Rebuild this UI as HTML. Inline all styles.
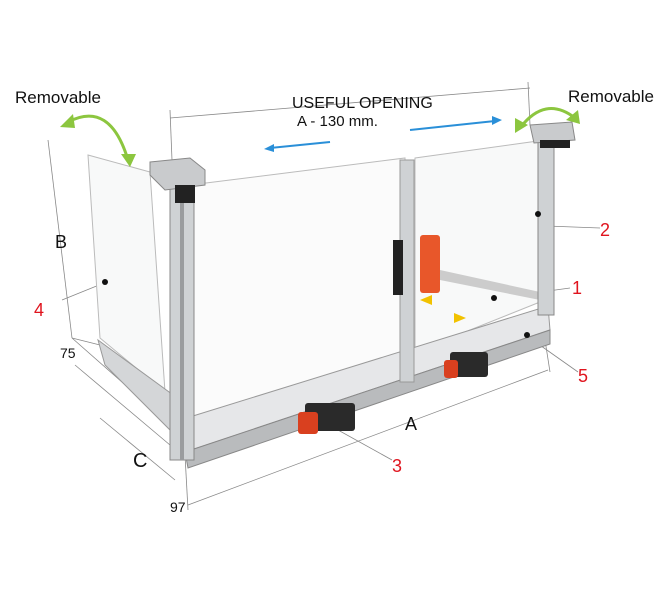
<!DOCTYPE html>
<html><head><style>
html,body{margin:0;padding:0;background:#fff;}
svg{display:block;}
text{font-family:"Liberation Sans",sans-serif;}
</style></head><body>
<svg width="670" height="600" viewBox="0 0 670 600" xmlns="http://www.w3.org/2000/svg">
<rect width="670" height="600" fill="#fff"/>
<g stroke="#888" stroke-width="0.8" fill="none">
<line x1="170" y1="118" x2="530" y2="88"/>
<line x1="170" y1="110" x2="172" y2="160"/>
<line x1="528" y1="82" x2="530" y2="125"/>
<line x1="48" y1="140" x2="72" y2="338"/>
<line x1="72" y1="338" x2="100" y2="345"/>
<line x1="72" y1="338" x2="165" y2="420"/>
<line x1="75" y1="365" x2="170" y2="445"/>
<line x1="100" y1="418" x2="175" y2="480"/>
<line x1="188" y1="505" x2="548" y2="370"/>
<line x1="185" y1="455" x2="188" y2="510"/>
<line x1="545" y1="340" x2="550" y2="372"/>
<line x1="62" y1="300" x2="104" y2="283"/>
<line x1="520" y1="225" x2="600" y2="228"/>
<line x1="497" y1="298" x2="570" y2="288"/>
<line x1="527" y1="336" x2="578" y2="372"/>
<line x1="320" y1="420" x2="392" y2="460"/>
</g>
<polygon points="88,155 150,172 165,392 100,338" fill="#f8f9f9" stroke="#bbb" stroke-width="1"/>
<polygon points="415,158 545,140 545,300 415,352" fill="#f8f9f9" stroke="#bbb"/>
<polygon points="190,185 405,158 405,382 190,420" fill="#fbfbfb" stroke="#bbb"/>
<polygon points="440,270 540,292 540,300 440,280" fill="#ccc"/>
<polygon points="98,340 180,400 180,440 105,365" fill="#d4d6d8" stroke="#999"/>
<polygon points="180,420 548,306 550,330 185,452" fill="#e6e7e9" stroke="#999"/>
<polygon points="185,452 550,330 550,344 188,468" fill="#b9bbbd" stroke="#888"/>
<rect x="170" y="185" width="24" height="275" fill="#cfd2d4" stroke="#888"/>
<rect x="180" y="185" width="4" height="275" fill="#9a9c9e"/>
<polygon points="150,162 190,158 205,170 205,185 165,190 150,175" fill="#c9cbcd" stroke="#888"/>
<rect x="175" y="185" width="20" height="18" fill="#222"/>
<rect x="400" y="160" width="14" height="222" fill="#cfd2d4" stroke="#999"/>
<rect x="538" y="140" width="16" height="175" fill="#cfd2d4" stroke="#888"/>
<polygon points="530,125 572,122 575,140 534,143" fill="#c9cbcd" stroke="#888"/>
<rect x="540" y="140" width="30" height="8" fill="#222"/>
<rect x="393" y="240" width="10" height="55" fill="#222"/>
<rect x="420" y="235" width="20" height="58" rx="3" fill="#e8572a"/>
<rect x="305" y="403" width="50" height="28" rx="3" fill="#2a2a2a"/>
<rect x="298" y="412" width="20" height="22" rx="3" fill="#d9401f"/>
<rect x="450" y="352" width="38" height="25" rx="3" fill="#2a2a2a"/>
<rect x="444" y="360" width="14" height="18" rx="3" fill="#d9401f"/>
<g fill="#111"><circle cx="105" cy="282" r="3"/><circle cx="538" cy="214" r="3"/><circle cx="494" cy="298" r="3"/><circle cx="527" cy="335" r="3"/></g>
<g stroke="#2a8fd8" stroke-width="2" fill="#2a8fd8">
<line x1="330" y1="142" x2="270" y2="148"/><polygon points="264,149 274,144 274,152" stroke="none"/>
<line x1="410" y1="130" x2="495" y2="121"/><polygon points="502,120 492,116 492,125" stroke="none"/>
</g>
<polygon points="420,300 432,295 432,305" fill="#f2c200"/>
<polygon points="466,318 454,313 454,323" fill="#f2c200"/>
<path d="M68,122 Q110,100 128,160" stroke="#8cc63f" stroke-width="3" fill="none"/>
<polygon points="60,127 73,114 75,128" fill="#8cc63f"/>
<polygon points="130,167 121,154 136,154" fill="#8cc63f"/>
<path d="M520,128 Q545,95 575,118" stroke="#8cc63f" stroke-width="3" fill="none"/>
<polygon points="515,133 515,118 528,125" fill="#8cc63f"/>
<polygon points="580,124 566,120 578,110" fill="#8cc63f"/>
<g font-size="17" fill="#111">
<text x="15" y="103">Removable</text>
<text x="568" y="102">Removable</text>
<text x="292" y="108" font-size="16">USEFUL OPENING</text>
<text x="297" y="126" font-size="15">A - 130 mm.</text>
<text x="55" y="248" font-size="18">B</text>
<text x="60" y="358" font-size="14">75</text>
<text x="133" y="467" font-size="20">C</text>
<text x="170" y="512" font-size="14">97</text>
<text x="405" y="430" font-size="18">A</text>
</g>
<g font-size="18" fill="#e0141e">
<text x="600" y="236">2</text>
<text x="572" y="294">1</text>
<text x="578" y="382">5</text>
<text x="392" y="472">3</text>
<text x="34" y="316">4</text>
</g>
</svg>
</body></html>
